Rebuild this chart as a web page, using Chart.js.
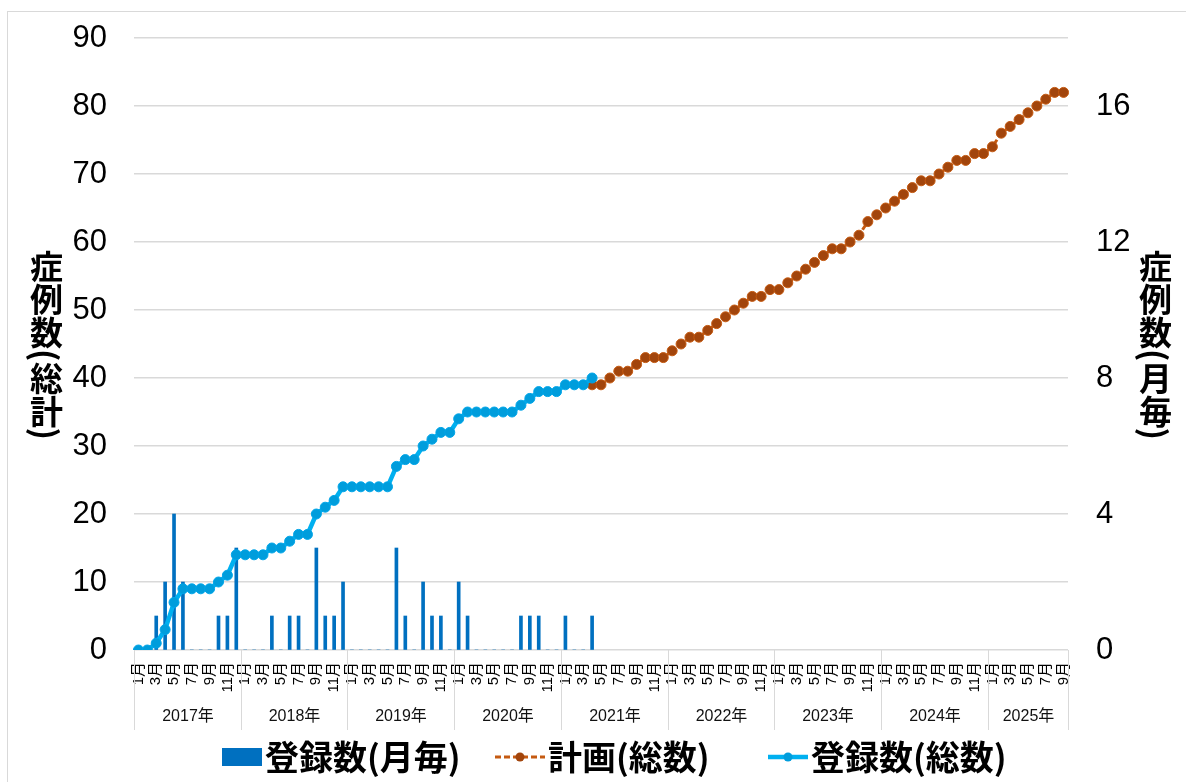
<!DOCTYPE html>
<html>
<head>
<meta charset="utf-8">
<script src="https://cdn.jsdelivr.net/npm/chart.js@4.4.1/dist/chart.umd.min.js"></script>
<style>
  html, body { margin: 0; padding: 0; background: #fff; }
  #wrap { position: relative; width: 1186px; height: 782px; overflow: hidden; }
  #frame { position: absolute; left: 7px; top: 11px; width: 1200px; height: 800px; border: 1px solid #d9d9d9; box-sizing: border-box; }
  #c { position: absolute; left: 0; top: 0; }
  .ytitle { position: absolute; writing-mode: vertical-rl; font-family: "Noto Sans CJK JP", sans-serif; font-weight: bold; font-size: 33px; line-height: 1; color: #000; transform: translate(-50%, -50%); white-space: nowrap; }
</style>
</head>
<body>
<div id="wrap">
  <div id="frame"></div>
  <canvas id="c" width="1186" height="782"></canvas>
  <div class="ytitle" style="left:46px; top:345px;">症例数(総計)</div>
  <div class="ytitle" style="left:1155px; top:345px;">症例数(月毎)</div>
</div>
<script>
// Axis categories: one slot per month, Jan 2017 – Sep 2025
const years = ['2017年', '2018年', '2019年', '2020年', '2021年', '2022年', '2023年', '2024年', '2025年'];
const monthNames = ['1月', '2月', '3月', '4月', '5月', '6月', '7月', '8月', '9月', '10月', '11月', '12月'];
const lastYearMonths = 9;

// Monthly enrolment (right axis), Jan 2017 – Apr 2021
const monthlyRegistrations = [
  0, 0, 1, 2, 4, 2, 0, 0, 0, 1, 1, 3,   // 2017
  0, 0, 0, 1, 0, 1, 1, 0, 3, 1, 1, 2,   // 2018
  0, 0, 0, 0, 0, 3, 1, 0, 2, 1, 1, 0,   // 2019
  2, 1, 0, 0, 0, 0, 0, 1, 1, 1, 0, 0,   // 2020
  1, 0, 0, 1                            // 2021
];

// Cumulative enrolment (left axis), Jan 2017 – Apr 2021
const registeredTotal = [
  0, 0, 1, 3, 7, 9, 9, 9, 9, 10, 11, 14,
  14, 14, 14, 15, 15, 16, 17, 17, 20, 21, 22, 24,
  24, 24, 24, 24, 24, 27, 28, 28, 30, 31, 32, 32,
  34, 35, 35, 35, 35, 35, 35, 36, 37, 38, 38, 38,
  39, 39, 39, 40
];

// Planned cumulative enrolment (left axis), Apr 2021 – Sep 2025
const planStartIndex = 51;
const plannedTotal = [
  39, 39, 40, 41, 41, 42, 43, 43, 43,
  44, 45, 46, 46, 47, 48, 49, 50, 51, 52, 52, 53,
  53, 54, 55, 56, 57, 58, 59, 59, 60, 61, 63, 64,
  65, 66, 67, 68, 69, 69, 70, 71, 72, 72, 73, 73,
  74, 76, 77, 78, 79, 80, 81, 82, 82
];

const leftTicks = { min: 0, max: 90, step: 10 };
const rightTicks = { min: 0, max: 18, step: 4 };

// Build the month categories and year spans
const categories = [];
const yearOfCategory = [];
years.forEach((y, k) => {
  const n = k === years.length - 1 ? lastYearMonths : 12;
  for (let m = 0; m < n; m++) { categories.push(monthNames[m]); yearOfCategory.push(k); }
});
const N = categories.length;
const pad = (arr, start) => { const out = new Array(N).fill(null); arr.forEach((v, i) => { out[start + i] = v; }); return out; };

const AXIS_ROW = 80;      // height of the month + year label rows
const LEGEND_ROW = 52;    // height reserved for the legend

// Year grouping row under the month labels
const yearAxis = {
  id: 'yearAxis',
  afterDraw(chart) {
    const xs = chart.scales.x;
    const ctx = chart.ctx;
    const step = xs.getPixelForValue(1) - xs.getPixelForValue(0);
    const top = chart.chartArea.bottom;
    const bottom = top + AXIS_ROW;
    ctx.save();
    ctx.strokeStyle = '#d9d9d9';
    ctx.lineWidth = 1;
    ctx.fillStyle = '#111';
    ctx.font = '16px "Liberation Sans", "Noto Sans CJK JP", sans-serif';
    ctx.textAlign = 'center';
    ctx.textBaseline = 'middle';
    years.forEach((yr, k) => {
      const first = yearOfCategory.indexOf(k);
      const last = yearOfCategory.lastIndexOf(k);
      const left = Math.round(xs.getPixelForValue(first) - step / 2) + 0.5;
      const right = Math.round(xs.getPixelForValue(last) + step / 2) + 0.5;
      ctx.beginPath(); ctx.moveTo(left, top); ctx.lineTo(left, bottom); ctx.stroke();
      if (k === years.length - 1) { ctx.beginPath(); ctx.moveTo(right, top); ctx.lineTo(right, bottom); ctx.stroke(); }
      ctx.fillText(yr, (left + right) / 2, top + 67);
    });
    ctx.restore();
  }
};

// Legend row: a marker for each series followed by its name
const legendRow = {
  id: 'legendRow',
  afterDraw(chart) {
    const ctx = chart.ctx;
    const sets = chart.data.datasets;
    const fontSize = 34, textGap = 3;
    const itemX = [222, 495, 768];
    const markerW = [40, 50, 40];
    ctx.save();
    ctx.font = `bold ${fontSize}px "Noto Sans CJK JP", sans-serif`;
    const cy = chart.chartArea.bottom + AXIS_ROW + 27;
    sets.forEach((ds, i) => {
      const x = itemX[i], w = markerW[i];
      if (ds.type === 'bar') {
        ctx.fillStyle = ds.backgroundColor;
        ctx.fillRect(x, cy - 9, w, 18);
      } else {
        ctx.strokeStyle = ds.borderColor;
        ctx.lineWidth = ds.borderWidth;
        ctx.setLineDash(ds.borderDash || []);
        ctx.beginPath(); ctx.moveTo(x, cy); ctx.lineTo(x + w, cy); ctx.stroke();
        ctx.setLineDash([]);
        ctx.fillStyle = ds.pointBackgroundColor;
        ctx.beginPath(); ctx.arc(x + w / 2, cy, 4.5, 0, Math.PI * 2); ctx.fill();
      }
      ctx.fillStyle = '#000';
      ctx.textAlign = 'left';
      ctx.textBaseline = 'middle';
      ctx.fillText(ds.label, x + w + textGap, cy);
    });
    ctx.restore();
  }
};

// Value axes keep their fixed widths and do not reserve extra room above/below
const fixWidth = w => s => { s.width = w; s.paddingTop = 0; s.paddingBottom = 0; };

new Chart(document.getElementById('c'), {
  type: 'bar',
  data: {
    labels: categories,
    datasets: [
      {
        type: 'bar', label: '登録数(月毎)', data: pad(monthlyRegistrations, 0), yAxisID: 'y1',
        backgroundColor: '#0070C0', barThickness: 3, order: 3
      },
      {
        type: 'line', label: '計画(総数)', data: pad(plannedTotal, planStartIndex), yAxisID: 'y',
        borderColor: '#C55A11', borderWidth: 3, borderDash: [6, 3],
        pointRadius: 5, pointBackgroundColor: '#A2450C', pointBorderColor: '#C55A11', pointBorderWidth: 1,
        order: 2
      },
      {
        type: 'line', label: '登録数(総数)', data: pad(registeredTotal, 0), yAxisID: 'y',
        borderColor: '#00B0F0', borderWidth: 4.5,
        pointRadius: 5, pointBackgroundColor: '#009DDC', pointBorderColor: '#00A5E8', pointBorderWidth: 1,
        order: 1
      }
    ]
  },
  options: {
    responsive: false,
    animation: false,
    devicePixelRatio: 1,
    layout: { padding: { top: 38, left: 0, right: 0, bottom: LEGEND_ROW } },
    plugins: {
      tooltip: { enabled: false },
      legend: { display: false }
    },
    scales: {
      x: {
        grid: { display: false },
        border: { display: false },
        ticks: {
          autoSkip: false, minRotation: 90, maxRotation: 90, padding: 4,
          font: { family: '"Liberation Sans", "Noto Sans CJK JP"', size: 15 }, color: '#000',
          callback: (v, i) => (i % 2 === 0 ? categories[i] : '')
        },
        afterFit: s => { s.height = AXIS_ROW; s.paddingLeft = 0; s.paddingRight = 0; }
      },
      y: {
        position: 'left', min: leftTicks.min, max: leftTicks.max,
        ticks: { stepSize: leftTicks.step, padding: 27, font: { family: '"Liberation Sans"', size: 31 }, color: '#000' },
        grid: { color: '#d9d9d9', lineWidth: 1.5, drawTicks: false },
        border: { display: false },
        afterFit: fixWidth(134)
      },
      y1: {
        position: 'right', min: rightTicks.min, max: rightTicks.max,
        ticks: {
          stepSize: rightTicks.step, padding: 28, font: { family: '"Liberation Sans"', size: 31 }, color: '#000',
          callback: v => (v % rightTicks.step === 0 ? v : '')
        },
        grid: { drawOnChartArea: false, drawTicks: false },
        border: { display: false },
        afterFit: fixWidth(118)
      }
    }
  },
  plugins: [yearAxis, legendRow]
});
</script>
</body>
</html>
